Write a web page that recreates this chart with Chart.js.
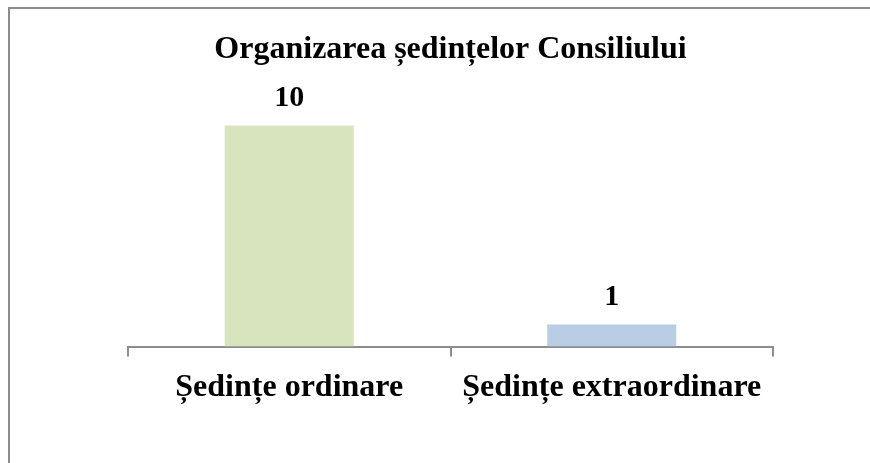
<!DOCTYPE html>
<html>
<head>
<meta charset="utf-8">
<script src="https://cdn.jsdelivr.net/npm/chart.js@4.4.0/dist/chart.umd.min.js"></script>
<style>
  body { margin: 0; background: #fff; }
  #wrap { position: relative; width: 870px; height: 463px; overflow: hidden; }
  #frame { position: absolute; left: 8px; top: 7px; width: 900px; height: 500px;
           border-left: 2px solid #8c8c8c; border-top: 2px solid #8c8c8c; }
  #chart { position: absolute; left: 0; top: 0; }
</style>
</head>
<body>
<div id="wrap">
  <div id="frame"></div>
  <canvas id="chart" width="870" height="463"></canvas>
</div>
<script>
	var categories = ["Ședințe ordinare", "Ședințe extraordinare"];
	var values = [10, 1];
	var barColors = ["#D7E4BD", "#B9CDE5"];
	var chartTitle = "Organizarea ședințelor Consiliului";

	var fontFamily = "'Liberation Serif', 'Times New Roman', serif";

	function $each(arr, fn){
		for (var i = 0; i < arr.length; i++) fn(i, arr[i]);
	}

	// values drawn above each bar
	var valueLabels = {
		id: "valueLabels",
		afterDatasetsDraw: function(chart){
			var ctx = chart.ctx;
			var meta = chart.getDatasetMeta(0);
			ctx.save();
			ctx.font = "bold 30px " + fontFamily;
			ctx.fillStyle = "#000";
			ctx.textAlign = "center";
			ctx.textBaseline = "alphabetic";
			$each(meta.data, function(i, bar){
				ctx.fillText(values[i], bar.x, bar.y - 20);
			});
			ctx.restore();
		}
	};

	new Chart("chart", {
		type: "bar",
		data: {
			labels: categories,
			datasets: [{
				data: values,
				backgroundColor: barColors,
				borderWidth: 0,
				barPercentage: 0.4,
				categoryPercentage: 1
			}]
		},
		options: {
			responsive: false,
			animation: false,
			layout: {
				padding: {left: 128, right: 97, top: 10, bottom: 44}
			},
			plugins: {
				legend: {display: false},
				tooltip: {enabled: false},
				title: {
					display: true,
					text: chartTitle,
					color: "#000",
					font: {family: fontFamily, size: 32, weight: "bold"},
					padding: {top: 21, bottom: 12}
				}
			},
			scales: {
				y: {
					display: false,
					min: 0,
					max: 12
				},
				x: {
					grid: {
						display: true,
						drawOnChartArea: false,
						drawTicks: true,
						tickLength: 10,
						color: "#8c8c8c",
						lineWidth: 2
					},
					border: {display: true, color: "#8c8c8c", width: 2},
					ticks: {
						color: "#000",
						padding: 12,
						font: {family: fontFamily, size: 32, weight: "bold"}
					}
				}
			}
		},
		plugins: [valueLabels]
	});
</script>
</body>
</html>
